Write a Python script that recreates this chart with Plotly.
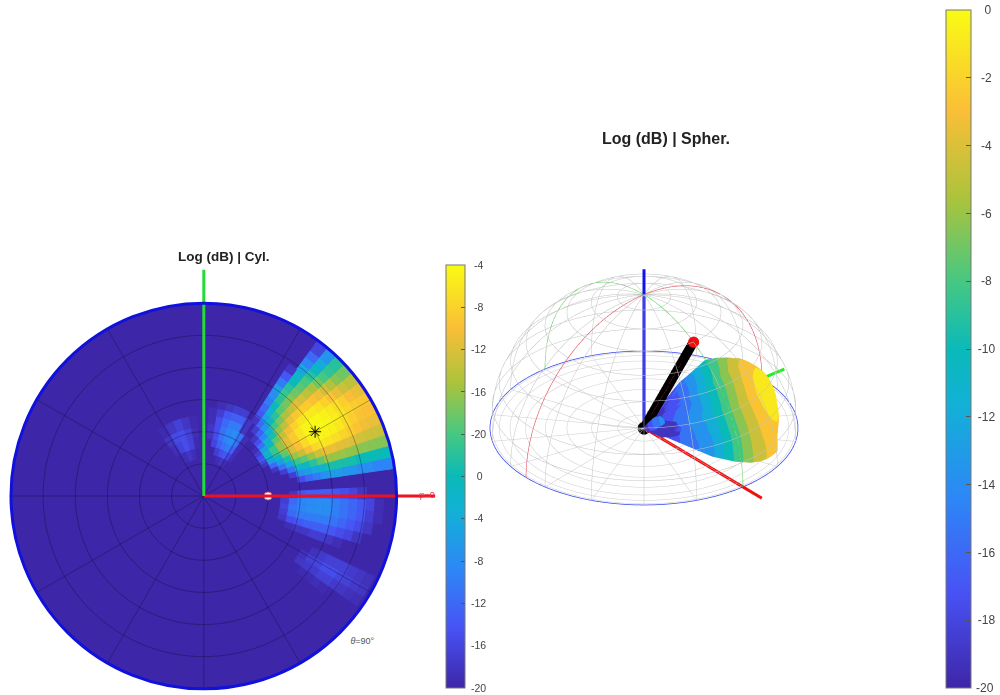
import numpy as np
import plotly.graph_objects as go

FLOOR = -20
PARULA_POS = [0.0, 0.14, 0.28, 0.42, 0.5, 0.6, 0.72, 0.85, 1.0]
PARULA_RGB = [(62, 38, 168), (72, 82, 244), (45, 135, 247), (18, 177, 214), (10, 186, 185),
              (70, 200, 130), (170, 195, 60), (250, 190, 55), (249, 251, 20)]
PARULA = [[p, "rgb(%d,%d,%d)" % c] for p, c in zip(PARULA_POS, PARULA_RGB)]
BAND_COUNT = 11

# colour-bar labels
RIGHT_TICKS = [0, -2, -4, -6, -8, -10, -12, -14, -16, -18, -20]
RIGHT_LABELS = ["0", "-2", "-4", "-6", "-8", "-10", "-12", "-14", "-16", "-18", "-20"]
LEFT_LABELS = ["-4", "-8", "-12", "-16", "-20", "0", "-4", "-8", "-12", "-16", "-20"]

# main lobe: theta rows, phi columns, level in dB
MAIN_THETA = [32, 35.6, 39.2, 42.8, 46.4, 50, 53.6, 57.2, 60.8, 64.4, 68, 71.6, 75.2, 78.8, 82.4, 86, 88.8]
MAIN_PHI = [10, 13.5, 17, 20.5, 24, 27.5, 31, 34.5, 38, 41.5, 45, 48.5, 52, 55.5]
MAIN_DB = [
    [-20, -20, -20, -20, -20, -19, -17, -17.5, -18.5, -19.5, -20, -20, -20, -20],
    [-20, -20, -20, -19, -16, -13, -11, -11, -13, -15.5, -17.5, -19, -20, -20],
    [-20, -20, -18.5, -15.5, -13, -10.5, -8.5, -8.5, -10, -12, -14.5, -16.5, -18.5, -20],
    [-20, -18.5, -15.5, -12.5, -9.5, -7.5, -6, -6, -7.5, -9.5, -11.5, -14, -16, -19],
    [-17.5, -14, -11, -8.5, -6, -4.3, -3.8, -3.8, -4.8, -6.2, -8.3, -10.5, -13, -17],
    [-16, -13, -10.5, -7.5, -4.8, -3, -2.4, -2.4, -3.2, -5, -6.8, -9, -11.5, -16],
    [-15, -12, -9, -6, -3, -1.6, -1.2, -1.2, -2, -3.5, -5.5, -7.5, -10, -15],
    [-14, -11, -7.5, -4.5, -1.7, -0.6, -0.3, -0.4, -1.1, -2.6, -4.8, -7, -9, -14],
    [-13, -9.5, -6, -3.5, -1.1, -0.3, 0, -0.1, -0.8, -2.2, -3.8, -6.5, -8.5, -13],
    [-13, -9.5, -6, -3.5, -1.2, -0.4, -0.1, -0.2, -0.9, -2.4, -4.2, -7, -9, -15],
    [-13.5, -9.5, -6, -3.7, -1.5, -0.6, -0.3, -0.5, -1.3, -2.9, -5, -7.5, -10, -17],
    [-13.5, -9.5, -6.2, -3.9, -1.9, -1, -0.7, -1, -2, -3.4, -5.6, -8, -11, -19],
    [-14, -10, -6.3, -4.1, -2.3, -1.6, -1.2, -1.5, -2.7, -4.4, -7, -9, -12.5, -20],
    [-14, -10, -6.4, -4.3, -2.8, -2.2, -1.8, -2.2, -3.6, -5.3, -8, -10.5, -14.5, -20],
    [-14.5, -10, -6.5, -4.5, -3.3, -2.8, -2.3, -3, -4.5, -6.5, -8.7, -12, -16, -20],
    [-14.5, -10, -6.5, -4.5, -3.5, -3, -2.5, -3.5, -5, -7, -9, -13.5, -18, -20],
    [-14.5, -10, -6.5, -4.5, -3.5, -3, -2.6, -3.6, -5, -7, -9, -13.5, -18, -20],
]

# side lobes
LOBE1_THETA = [18, 21.6, 25.2, 28.8, 32.4, 36, 39.6, 43.2]
LOBE1_PHI = [54, 59, 64, 69, 74, 79, 84]
LOBE1_DB = [
    [-20, -19.5, -19, -19.5, -20, -20, -20],
    [-19.5, -18, -17, -17.5, -18.5, -20, -20],
    [-19.5, -16.5, -15, -15.5, -16.5, -18, -20],
    [-19.5, -15.5, -14, -14.5, -15.5, -17.5, -19],
    [-19.5, -15.5, -14, -14.5, -15.5, -17.5, -19],
    [-20, -19, -15, -15, -16, -17.5, -19.5],
    [-20, -19, -16.5, -16.5, -17, -18.5, -19.5],
    [-20, -20, -18.5, -18.5, -19, -19.5, -20],
]
LOBE2_THETA = [20, 25, 30, 35]
LOBE2_PHI = [98, 104, 110, 116, 122]
LOBE2_DB = [
    [-20, -19.5, -19, -19.5, -20],
    [-19.7, -18.3, -17.5, -18.2, -19.5],
    [-19.5, -18.3, -17.5, -17.8, -19],
    [-19.7, -19, -18.3, -19, -19.7],
]
LOBE3_THETA = [38, 42, 46, 50, 54, 58, 62, 66, 70, 74, 78, 82]
LOBE3_PHI = [-23, -19, -15, -11, -7, -3, 1]
LOBE3_DB = [
    [-20, -20, -19, -18.5, -18, -18.5, -20],
    [-20, -19.5, -17.5, -16, -15.5, -16, -19],
    [-20, -19, -17, -15, -14.5, -14.5, -17],
    [-20, -19, -16.5, -15, -14, -14.2, -16.5],
    [-20, -18.5, -16.5, -15, -14, -14, -16.5],
    [-20, -18.5, -16.5, -15, -14, -14, -16.5],
    [-20, -19, -17, -15.5, -14.8, -14.8, -17],
    [-20, -19.5, -17.5, -16.2, -15.5, -15.5, -17.5],
    [-20, -20, -18, -17, -16.2, -16.2, -18],
    [-20, -20, -19, -17.7, -17, -17, -19],
    [-20, -20, -20, -19, -18.5, -18, -20],
    [-20, -20, -20, -20, -19.5, -19.5, -20],
]
LOBE4_THETA = [54, 58, 62, 66, 70, 74, 78, 82, 86]
LOBE4_PHI = [-37.5, -34, -30.5, -27]
LOBE4_DB = [
    [-20, -19, -19.3, -20],
    [-19.7, -18.7, -18.3, -19.3],
    [-19.7, -18.7, -18, -18.7],
    [-19.5, -18.3, -17.5, -18.3],
    [-19.7, -18.3, -17.5, -18.3],
    [-20, -18.7, -18, -18.3],
    [-20, -19, -18.3, -18.7],
    [-20, -19.3, -18.7, -19],
    [-20, -19.5, -19, -19.3],
]
LOBES = [(LOBE1_THETA, LOBE1_PHI, LOBE1_DB), (LOBE2_THETA, LOBE2_PHI, LOBE2_DB),
         (LOBE3_THETA, LOBE3_PHI, LOBE3_DB), (LOBE4_THETA, LOBE4_PHI, LOBE4_DB)]

# dark small lobe seen only in the spherical view
NEAR_THETA = [52, 60, 68, 76, 84]
NEAR_PHI = [-10, -3, 4, 11]
NEAR_DB = [
    [-19.5, -19, -19, -19.5],
    [-19, -18.4, -18.3, -19],
    [-18.8, -18.2, -18.1, -18.8],
    [-19, -18.4, -18.3, -19],
    [-19.5, -19, -19, -19.5],
]

POINTING_THETA, POINTING_PHI = 30, 0
PEAK_THETA, PEAK_PHI = 60, 30
X_AXIS_END, Y_AXIS_END = 108, 105.5
PHI_LABEL_AT = (104, 0)
THETA_LABEL_AT = (74, -68)


def pad(labels):
    # labels in the reference are centred on a common line
    return ["\u00a0" * {1: 3, 2: 2, 3: 1}[len(s)] + s for s in labels]


def stepped_scale(n):
    out = []
    for k in range(n):
        mid = (k + 0.5) / n
        rgb = [np.interp(mid, PARULA_POS, [c[i] for c in PARULA_RGB]) for i in range(3)]
        col = "rgb(%d,%d,%d)" % tuple(rgb)
        out += [[k / n, col], [(k + 1) / n, col]]
    return out


BANDS = stepped_scale(BAND_COUNT)
fig = go.Figure()

# overlay axes with the same scale as the disc, for what sticks out of it
fig.add_trace(go.Scatter(x=[0, X_AXIS_END], y=[0, 0], mode="lines", xaxis="x", yaxis="y", hoverinfo="skip",
                         line=dict(color="#ee1122", width=3), showlegend=False))
fig.add_trace(go.Scatter(x=[0, 0], y=[0, Y_AXIS_END], mode="lines", xaxis="x", yaxis="y", hoverinfo="skip",
                         line=dict(color="#22dd33", width=3), showlegend=False))
fig.add_trace(go.Scatter(x=[PHI_LABEL_AT[0]], y=[PHI_LABEL_AT[1]], mode="text", xaxis="x", yaxis="y",
                         text=["<i>φ</i>=0"], textposition="middle center", hoverinfo="skip", showlegend=False,
                         textfont=dict(family="Liberation Sans", size=9, color="#ee3344")))
fig.add_trace(go.Scatter(x=[THETA_LABEL_AT[0]], y=[THETA_LABEL_AT[1]], mode="text", xaxis="x", yaxis="y",
                         text=["<i>θ</i>=90°"], textposition="middle center", hoverinfo="skip", showlegend=False,
                         textfont=dict(family="Liberation Sans", size=9, color="#555")))

# ---------- left: cylindrical view ----------
base, dr, ang, wid, col = [], [], [], [], []
for th, ph, db in [(MAIN_THETA, MAIN_PHI, MAIN_DB)] + LOBES:
    dth = th[1] - th[0]
    dph = abs(ph[1] - ph[0])
    for i, t in enumerate(th):
        for j, p in enumerate(ph):
            if db[i][j] > FLOOR:
                lo = t - dth / 2
                base.append(lo)
                dr.append(min(t + dth / 2, 90) - lo)
                ang.append(p)
                wid.append(dph)
                col.append(db[i][j])

fig.add_trace(go.Barpolar(
    base=base, r=dr, theta=ang, width=wid, subplot="polar", hoverinfo="skip", showlegend=False,
    marker=dict(color=col, colorscale=PARULA, cmin=-20, cmax=0,
                line=dict(color=col, colorscale=PARULA, cmin=-20, cmax=0, width=1),
                colorbar=dict(x=0.446, xanchor="left", xpad=0, ypad=0, thickness=19,
                              y=7 / 695, yanchor="bottom", len=423 / 695, lenmode="fraction",
                              tickvals=RIGHT_TICKS, ticktext=pad(LEFT_LABELS), ticks="inside", ticklen=4,
                              tickcolor="#555", outlinecolor="#777", outlinewidth=1,
                              tickfont=dict(family="Liberation Sans", size=10.5, color="#444"))),
))

GRID = "rgba(10,10,30,0.36)"
fine = np.arange(0, 361, 3)
for ring in [15, 30, 45, 60, 75]:
    fig.add_trace(go.Scatterpolar(r=[ring] * len(fine), theta=fine, mode="lines", subplot="polar",
                                  line=dict(color=GRID, width=0.9), hoverinfo="skip", showlegend=False))
for sp in range(0, 360, 30):
    fig.add_trace(go.Scatterpolar(r=[0, 90], theta=[sp, sp], mode="lines", subplot="polar",
                                  line=dict(color=GRID, width=0.9), hoverinfo="skip", showlegend=False))

fig.add_trace(go.Scatterpolar(r=[POINTING_THETA], theta=[POINTING_PHI], mode="markers", subplot="polar",
                              marker=dict(size=8, color="white", line=dict(color="#e06070", width=1)),
                              hoverinfo="skip", showlegend=False))
fig.add_trace(go.Scatterpolar(r=[0, 90], theta=[0, 0], mode="lines", subplot="polar",
                              line=dict(color="#ee1122", width=3), hoverinfo="skip", showlegend=False))
fig.add_trace(go.Scatterpolar(r=[0, 90], theta=[90, 90], mode="lines", subplot="polar",
                              line=dict(color="#22dd33", width=3), hoverinfo="skip", showlegend=False))
fig.add_trace(go.Scatterpolar(r=[PEAK_THETA], theta=[PEAK_PHI], mode="markers", subplot="polar",
                              marker=dict(size=10, symbol="asterisk-open", color="black",
                                          line=dict(color="black", width=1)),
                              hoverinfo="skip", showlegend=False))


# ---------- right: spherical view ----------
def add_lobe(theta, phi, db, radius, shade=lambda d: d):
    t = np.radians([theta[0] - (theta[1] - theta[0])] + list(theta) + [min(theta[-1] + (theta[1] - theta[0]), 90)])
    p = np.radians([phi[0] - (phi[1] - phi[0])] + list(phi) + [phi[-1] + (phi[1] - phi[0])])
    d = np.full((len(t), len(p)), float(FLOOR))
    d[1:-1, 1:-1] = np.array(db, dtype=float)
    if theta is MAIN_THETA:
        d[-1, 1:-1] = d[-2, 1:-1]
    r = radius(d)
    T, P = np.meshgrid(t, p, indexing="ij")
    fig.add_trace(go.Surface(x=r * np.sin(T) * np.cos(P), y=r * np.sin(T) * np.sin(P), z=r * np.cos(T),
                             surfacecolor=shade(d), colorscale=BANDS, cmin=-20, cmax=0, scene="scene",
                             showscale=False, hoverinfo="skip",
                             lighting=dict(ambient=1, diffuse=0, specular=0, roughness=1, fresnel=0)))


add_lobe(MAIN_THETA, MAIN_PHI, MAIN_DB, lambda d: 0.97 * ((d + 20) / 20) ** 0.4,
         shade=lambda d: np.clip(20 * ((d + 20) / 20) ** 0.75 - 20.8, -20, 0))
for th, ph, db in LOBES:
    add_lobe(th, ph, db, lambda d: (d + 20) / 20 * 0.9)
add_lobe(NEAR_THETA, NEAR_PHI, NEAR_DB, lambda d: (d + 20) / 20 * 4)


def polyline(xs, ys, zs, color, width, dash="solid"):
    fig.add_trace(go.Scatter3d(x=xs, y=ys, z=zs, mode="lines", scene="scene", showlegend=False,
                               hoverinfo="skip", line=dict(color=color, width=width, dash=dash)))


# wire-frame hemisphere
a = np.radians(np.arange(0, 361, 4))
e = np.radians(np.arange(0, 91, 3))
gx, gy, gz = [], [], []
for el in range(10, 90, 10):
    c = np.radians(el)
    gx += list(np.cos(c) * np.cos(a)) + [None]
    gy += list(np.cos(c) * np.sin(a)) + [None]
    gz += list(np.sin(c) * np.ones_like(a)) + [None]
for az in range(0, 360, 20):
    b = np.radians(az)
    gx += list(np.cos(e) * np.cos(b)) + [None]
    gy += list(np.cos(e) * np.sin(b)) + [None]
    gz += list(np.sin(e)) + [None]
polyline(gx, gy, gz, "rgb(196,196,196)", 1)
# same pattern on the base
bx, by = [], []
for rr in [0.17, 0.34, 0.5, 0.64, 0.77, 0.87, 0.94, 0.985]:
    bx += list(rr * np.cos(a)) + [None]
    by += list(rr * np.sin(a)) + [None]
for az in range(0, 360, 20):
    b = np.radians(az)
    bx += [0, np.cos(b), None]
    by += [0, np.sin(b), None]
polyline(bx, by, [0 if v is not None else None for v in bx], "rgb(205,205,205)", 1)

polyline(np.cos(a), np.sin(a), np.zeros_like(a), "#3344ee", 1.5)
polyline(np.cos(e), np.zeros_like(e), np.sin(e), "#33dd33", 1.2)
polyline(-np.cos(e), np.zeros_like(e), np.sin(e), "#33dd33", 1.2)
polyline(np.zeros_like(e), np.cos(e), np.sin(e), "#e05060", 1.2)
polyline(np.zeros_like(e), -np.cos(e), np.sin(e), "#e05060", 1.2)

polyline([0, 1.19], [0, 0], [0, 0], "#ee1111", 6)
polyline([0, 0], [0, 1.19], [0, 0], "#22ee22", 6)
polyline([0, 0], [0, 0], [0, 1.19], "#1111ee", 6)

az_rad, el_rad = np.radians(-40), np.radians(30)
toward_eye = np.array([np.cos(el_rad) * np.cos(az_rad), np.cos(el_rad) * np.sin(az_rad), np.sin(el_rad)])
tip = np.array([np.sin(np.radians(POINTING_THETA)) * np.cos(np.radians(POINTING_PHI)),
                np.sin(np.radians(POINTING_THETA)) * np.sin(np.radians(POINTING_PHI)),
                np.cos(np.radians(POINTING_THETA))])
polyline([0, tip[0]], [0, tip[1]], [0, tip[2]], "black", 19)
red_a, red_b = tip * 0.15 + toward_eye * 0.05, tip * 0.75 + toward_eye * 0.05
polyline([red_a[0], red_b[0]], [red_a[1], red_b[1]], [red_a[2], red_b[2]], "#cc1122", 2, dash="dash")
fig.add_trace(go.Scatter3d(x=[0], y=[0], z=[0], mode="markers", scene="scene", showlegend=False, hoverinfo="skip",
                           marker=dict(size=7.5, color="black")))
fig.add_trace(go.Scatter3d(x=[tip[0]], y=[tip[1]], z=[tip[2]], mode="markers", scene="scene", showlegend=False,
                           hoverinfo="skip", marker=dict(size=6.5, color="#ee1111")))

# carries the smooth colour bar of the spherical view
fig.add_trace(go.Scatter3d(
    x=[0, 0], y=[0, 0], z=[0, 0], mode="markers", scene="scene", showlegend=False, hoverinfo="skip",
    marker=dict(size=1, color=[FLOOR, 0], colorscale=PARULA, cmin=-20, cmax=0, showscale=True,
                colorbar=dict(x=0.946, xanchor="left", xpad=0, ypad=0, thickness=25, y=7 / 695, yanchor="bottom",
                              len=678 / 695, lenmode="fraction", tickvals=RIGHT_TICKS[:-1],
                              ticktext=pad(RIGHT_LABELS[:-1]),
                              ticks="inside", ticklen=5, tickcolor="#555", outlinecolor="#777", outlinewidth=1,
                              tickfont=dict(family="Liberation Sans", size=12, color="#444")))))

hidden = dict(visible=False, range=[-1.25, 1.25], autorange=False)
D = 3.0
ASPECT = 2.265
PX_PER_DEG = 193 / 90
fig.update_layout(
    width=1000, height=695, margin=dict(l=0, r=0, t=0, b=0), paper_bgcolor="white", plot_bgcolor="rgba(0,0,0,0)",
    showlegend=False,
    xaxis=dict(domain=[0, 0.45], range=[-204 / PX_PER_DEG, 246 / PX_PER_DEG], visible=False, fixedrange=True),
    yaxis=dict(domain=[0, 1], range=[-199 / PX_PER_DEG, 496 / PX_PER_DEG], visible=False, fixedrange=True),
    polar=dict(domain=dict(x=[0.011, 0.397], y=[6 / 695, 392 / 695]), bgcolor="rgb(62,38,168)", barmode="overlay",
               radialaxis=dict(visible=False, range=[0, 90]),
               angularaxis=dict(showgrid=False, showticklabels=False, ticks="", showline=True,
                                linecolor="#1111dd", linewidth=3)),
    scene=dict(domain=dict(x=[0.474, 0.814], y=[97 / 695, 437 / 695]), bgcolor="rgba(0,0,0,0)",
               xaxis=hidden, yaxis=hidden, zaxis=hidden, aspectmode="manual",
               aspectratio=dict(x=ASPECT, y=ASPECT, z=ASPECT),
               camera=dict(projection=dict(type="orthographic"), center=dict(x=0, y=0, z=0),
                           up=dict(x=0, y=0, z=1),
                           eye=dict(x=D * toward_eye[0], y=D * toward_eye[1], z=D * toward_eye[2]))),
    annotations=[
        dict(text="<b>Log (dB) | Cyl.</b>", x=224 / 1000, y=1 - 256 / 695, xref="paper", yref="paper", showarrow=False,
             xanchor="center", yanchor="middle", font=dict(family="Liberation Sans", size=13.5, color="#222")),
        dict(text="<b>Log (dB) | Spher.</b>", x=667 / 1000, y=1 - 139 / 695, xref="paper", yref="paper", showarrow=False,
             xanchor="center", yanchor="middle", font=dict(family="Liberation Sans", size=16, color="#222")),
        dict(text=RIGHT_LABELS[-1], x=986 / 1000, y=1 - 688 / 695, xref="paper", yref="paper", showarrow=False,
             xanchor="center", yanchor="middle", font=dict(family="Liberation Sans", size=12, color="#444")),
    ],
)
fig.write_html("out.html", config=dict(displayModeBar=False),
               post_script="document.body.style.margin='0';document.body.style.overflow='hidden';")
